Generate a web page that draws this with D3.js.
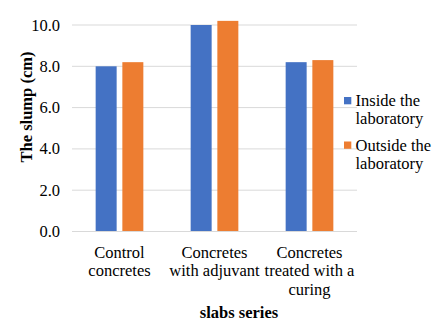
<!DOCTYPE html>
<html><head><meta charset="utf-8">
<script src="https://cdn.jsdelivr.net/npm/d3@7"></script>
</head><body style="margin:0">
<script>
const categories = [["Control","concretes"],["Concretes","with adjuvant"],["Concretes","treated with a","curing"]];
const seriesNames = [["Inside the","laboratory"],["Outside the","laboratory"]];
const inside = [8.0, 10.0, 8.2];
const outside = [8.2, 10.2, 8.3];
const yTicks = [0, 2, 4, 6, 8, 10];
const colors = ["#4472C4", "#ED7D31"];

const W = 443, H = 330;
const FONT = "Liberation Serif";
const svg = d3.select("body").append("svg").attr("width", W).attr("height", H);
const fs = 16.5;

const x0 = d3.scaleBand().domain(d3.range(categories.length)).range([72, 357]).padding(0);
const x1 = d3.scaleBand().domain([0, 1]).range([x0.bandwidth()*0.249, x0.bandwidth()*0.751]).paddingInner(0.2135);
const y = d3.scaleLinear().domain([0, 10]).range([231.5, 25]);

svg.append("g").selectAll("line").data(yTicks).join("line")
  .attr("x1", 72).attr("x2", 357)
  .attr("y1", d => y(d)).attr("y2", d => y(d))
  .attr("stroke", "#D9D9D9").attr("stroke-width", 1);

svg.append("g").selectAll("text").data(yTicks).join("text")
  .attr("x", 60).attr("y", d => y(d) + 5.5)
  .attr("text-anchor", "end").attr("font-family", FONT).attr("font-weight", "normal").attr("font-size", fs)
  .text(d => d.toFixed(1));

const data = categories.map((c, i) => [inside[i], outside[i]]);
const groups = svg.append("g").selectAll("g").data(data).join("g")
  .attr("transform", (d, i) => `translate(${x0(i)},0)`);
groups.selectAll("rect").data(d => d.map((v, j) => ({v, j}))).join("rect")
  .attr("x", d => x1(d.j)).attr("width", x1.bandwidth())
  .attr("y", d => y(d.v)).attr("height", d => y(0) - y(d.v))
  .attr("fill", d => colors[d.j]);

svg.append("line").attr("x1", 72).attr("x2", 357).attr("y1", y(0)).attr("y2", y(0))
  .attr("stroke", "#D9D9D9").attr("stroke-width", 1);

categories.forEach((lines, i) => {
  lines.forEach((s, k) => {
    svg.append("text").attr("x", x0(i) + x0.bandwidth()/2).attr("y", 257.5 + k * 18.8)
      .attr("text-anchor", "middle").attr("font-family", FONT).attr("font-weight", "normal")
      .attr("font-size", fs).text(s);
  });
});

svg.append("text").attr("x", 239).attr("y", 317.5).attr("text-anchor", "middle")
  .attr("font-family", FONT).attr("font-size", fs).attr("font-weight", "bold")
  .text("slabs series");
svg.append("text").attr("transform", "translate(32,107) rotate(-90)").attr("text-anchor", "middle")
  .attr("font-family", FONT).attr("font-size", fs).attr("font-weight", "bold")
  .text("The slump (cm)");

const legY = [106, 150.5];
seriesNames.forEach((lines, i) => {
  svg.append("rect").attr("x", 344).attr("y", legY[i] - 9).attr("width", 7.3).attr("height", 7.3)
    .attr("fill", colors[i]);
  lines.forEach((s, k) => {
    svg.append("text").attr("x", 355.5).attr("y", legY[i] + k * 18)
      .attr("font-family", FONT).attr("font-weight", "normal").attr("font-size", fs).text(s);
  });
});
</script>
</body></html>
